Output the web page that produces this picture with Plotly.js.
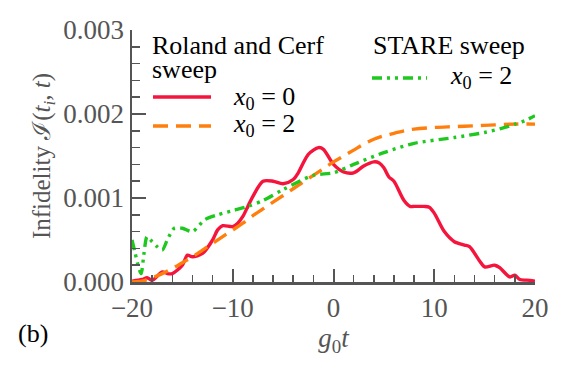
<!DOCTYPE html>
<html>
<head>
<meta charset="utf-8">
<script src="https://cdn.plot.ly/plotly-3.0.1.min.js"></script>
<style>
  body { margin: 0; background: #fff; }
  #chart { width: 568px; height: 374px; }
</style>
</head>
<body>
<div id="chart"></div>
<script>
// Roland and Cerf sweep, x0 = 0
const rcX0 = [-20, -19, -18.5, -18, -17, -16.5, -16, -15, -14.5, -14, -13, -12, -11.5, -11, -10, -9.5, -9,
    -8.5, -8, -7, -6, -5, -4, -3.5, -2.5, -1.5, -1, 0, 1, 2, 3, 4, 4.5, 5, 5.5, 6, 7, 7.6, 8, 9, 9.5, 10, 11,
    12, 13, 13.5, 14.5, 15, 16, 16.5, 17.5, 18, 18.5, 19.5, 20];
const rcY0 = [0.00001, 0.00003, 0.00005, 0.00002, 0.00012, 0.0001, 0.0001, 0.0002, 0.00032, 0.0003, 0.00034,
    0.0005, 0.00062, 0.00067, 0.00066, 0.0007, 0.00078, 0.0009, 0.00102, 0.0012, 0.0012, 0.00117, 0.00122,
    0.0013, 0.00152, 0.0016, 0.00158, 0.0014, 0.00131, 0.0013, 0.00138, 0.00143, 0.00142, 0.00136, 0.00125,
    0.0012, 0.00097, 0.0009, 0.0009, 0.0009, 0.00089, 0.00082, 0.0006, 0.00048, 0.00044, 0.00042, 0.00025,
    0.00018, 0.0002, 0.00017, 0.00006, 0.00008, 0.00003, 0.00002, 0.00001];

// Roland and Cerf sweep, x0 = 2
const rcX2 = [-20, -19, -18, -17, -16, -15, -14, -13, -12, -11, -10, -9, -8, -7, -6, -5, -4, -3, -2, -1, 0,
    1, 2, 3, 4, 5, 6, 7, 8, 10, 12, 14, 16, 18, 20];
const rcY2 = [0, 0.00001, 0.00005, 0.0001, 0.00016, 0.00023, 0.0003, 0.00038, 0.00046, 0.00054, 0.00062,
    0.0007, 0.00079, 0.00087, 0.00095, 0.00103, 0.00111, 0.00119, 0.00127, 0.00135, 0.00143, 0.0015, 0.00157,
    0.00164, 0.0017, 0.00174, 0.00177, 0.0018, 0.00182, 0.00184, 0.00185, 0.00186, 0.00187, 0.00188, 0.00188];

// STARE sweep, x0 = 2
const stX2 = [-20, -19.7, -19.4, -19.1, -18.8, -18.5, -18, -17.5, -17, -16.5, -15.8, -15, -14, -12.8, -11.5,
    -10, -8.5, -7, -5, -2, 0, 2, 5, 8, 12, 15, 17, 18, 19, 20];
const stY2 = [0.0005, 0.00035, 0.0002, 0.0001, 0.00035, 0.00054, 0.00048, 0.00042, 0.00038, 0.0005, 0.00064,
    0.00064, 0.0006, 0.00074, 0.0008, 0.00085, 0.0009, 0.00097, 0.0011, 0.00127, 0.0013, 0.0014, 0.00154,
    0.00165, 0.00172, 0.00178, 0.00184, 0.00188, 0.00192, 0.00198];

const xTicks = [-20, -10, 0, 10, 20];
const yTicks = [0, 0.001, 0.002, 0.003];

const RED = '#f5143c';
const ORANGE = '#ff7f0e';
const GREEN = '#1ec81e';
const DASH_RC = '15px,8px';
const DASH_ST = '10px,5px,3px,5px,3px,5px';

const serif = '"Liberation Serif", "Times New Roman", serif';
const axisGrey = '#555555';

// plot area in pixels: left 132, right 535, top 30, bottom 282
const px = x => (x - 132) / 403;
const py = y => (282 - y) / 252;

const traces = [
    { x: rcX0, y: rcY0, mode: 'lines', line: { color: RED, width: 3.4, shape: 'spline', smoothing: 0.8 } },
    { x: rcX2, y: rcY2, mode: 'lines', line: { color: ORANGE, width: 3.4, dash: DASH_RC, shape: 'spline' } },
    { x: stX2, y: stY2, mode: 'lines', line: { color: GREEN, width: 3.4, dash: DASH_ST, shape: 'spline', smoothing: 0.8 } }
];

function legendText(text, x, y) {
    return {
        text: text, xref: 'paper', yref: 'paper', x: px(x), y: py(y),
        xanchor: 'left', yanchor: 'middle', showarrow: false,
        font: { family: serif, size: 26, color: '#000' }
    };
}

function legendLine(color, dash, x0, x1, y) {
    return {
        type: 'line', xref: 'paper', yref: 'paper',
        x0: px(x0), x1: px(x1), y0: py(y), y1: py(y),
        line: { color: color, width: 3.4, dash: dash }
    };
}

const layout = {
    width: 568,
    height: 374,
    margin: { l: 132, r: 33, t: 30, b: 92 },
    paper_bgcolor: '#fff',
    plot_bgcolor: '#fff',
    showlegend: false,
    font: { family: serif, color: axisGrey },
    xaxis: {
        range: [-20, 20],
        tickvals: xTicks,
        ticktext: ['\u221220', '\u221210', '0', '10', '20'],
        ticks: 'inside', ticklen: 13, tickwidth: 2, tickcolor: axisGrey,
        minor: { dtick: 2, ticks: 'inside', ticklen: 7, tickwidth: 1.5, tickcolor: axisGrey },
        showline: true, linecolor: axisGrey, linewidth: 2.5,
        showgrid: false, zeroline: false,
        tickfont: { family: serif, size: 27, color: axisGrey },
        title: { text: '<i>g</i><sub>0</sub><i>t</i>', font: { family: serif, size: 27, color: axisGrey }, standoff: 6 }
    },
    yaxis: {
        range: [0, 0.003],
        tickvals: yTicks,
        tickformat: '.3f',
        ticks: 'inside', ticklen: 14, tickwidth: 2, tickcolor: axisGrey,
        minor: { dtick: 0.0002, ticks: 'inside', ticklen: 8, tickwidth: 1.5, tickcolor: axisGrey },
        showline: true, linecolor: axisGrey, linewidth: 2.5,
        showgrid: false, zeroline: false,
        tickfont: { family: serif, size: 27, color: axisGrey },
        title: { text: 'Infidelity \u2110(<i>t<sub>i</sub></i>, <i>t</i>)', font: { family: serif, size: 25, color: axisGrey }, standoff: 6 }
    },
    annotations: [
        legendText('Roland and Cerf', 150, 45),
        legendText('sweep', 150, 69),
        legendText('<i>x</i><sub>0</sub> = 0', 231, 98),
        legendText('<i>x</i><sub>0</sub> = 2', 231, 125),
        legendText('STARE sweep', 371, 45),
        legendText('<i>x</i><sub>0</sub> = 2', 448, 77),
        {
            text: '(b)', xref: 'paper', yref: 'paper', x: px(16), y: py(333),
            xanchor: 'left', yanchor: 'middle', showarrow: false,
            font: { family: serif, size: 26, color: '#000' }
        }
    ],
    shapes: [
        legendLine(RED, 'solid', 153, 211, 97),
        legendLine(ORANGE, DASH_RC, 153, 211, 126),
        legendLine(GREEN, DASH_ST, 372, 427, 78)
    ]
};

Plotly.newPlot('chart', traces, layout, { displayModeBar: false, staticPlot: true });
</script>
</body>
</html>
